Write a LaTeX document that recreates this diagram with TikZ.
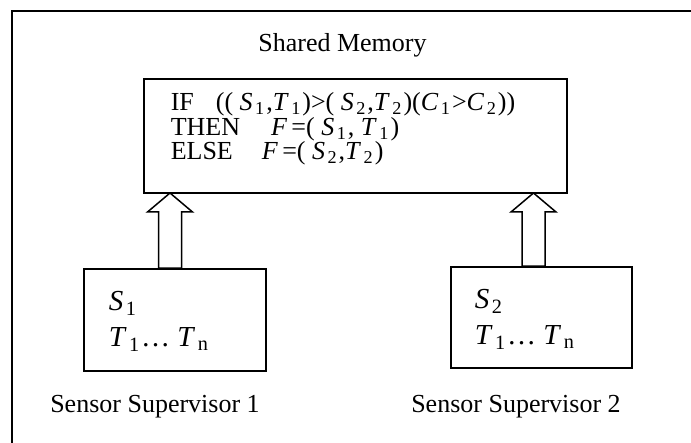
\documentclass[tikz,border=0pt]{standalone}
\usepackage{fontspec}
\setmainfont{Liberation Serif}
\usetikzlibrary{calc}
\newcommand\iv[2]{\textit{#1}\kern2.5pt\textsubscript{#2}\kern1.5pt}
\begin{document}
\begin{tikzpicture}[x=1pt,y=-1pt,line width=1.5pt,
  box node/.style={rectangle,draw,inner sep=0pt},
  memo text/.style={font=\fontsize{26}{26}\selectfont,anchor=base west,inner sep=0pt,text height=17pt,text depth=5pt},
  sup text/.style={font=\fontsize{29}{29}\selectfont,anchor=base west,inner sep=0pt,text height=20pt,text depth=6pt},
  caption/.style={font=\fontsize{26}{26}\selectfont,anchor=base,inner sep=0pt}]

  \useasboundingbox (0,0) rectangle (691,443);
  \draw[line width=2pt] (12,443) -- (12,11) -- (691,11);

  \node[box node,minimum width=423pt,minimum height=114pt] at (355.5,136) (mem) {};
  \node[box node,minimum width=182pt,minimum height=102pt] at (175,320) (sup1) {};
  \node[box node,minimum width=181pt,minimum height=101pt] at (541.5,317.5) (sup2) {};

  \node[caption] at (342.5,52) (memtitle) {Shared Memory};
  \node[memo text] at (170,111) (ifline) {IF\hspace{22pt}((\ \iv{S}{1},\iv{T}{1})>(\ \iv{S}{2},\iv{T}{2})(\iv{C}{1}>\iv{C}{2}))};
  \node[memo text] at (170,135.5) (thenline) {THEN\hspace{31pt}\textit{F}\,=(\ \iv{S}{1},\ \iv{T}{1})};
  \node[memo text] at (170,160) (elseline) {ELSE\hspace{29pt}\textit{F}\,=(\ \iv{S}{2},\iv{T}{2})};

  \node[sup text] at (108,311) (s1) {\iv{S}{1}};
  \node[sup text] at (108,346.7) (t1) {\iv{T}{1}\dots\ \iv{T}{n}};
  \node[sup text] at (474,309) (s2) {\iv{S}{2}};
  \node[sup text] at (474,345) (t2) {\iv{T}{1}\dots\ \iv{T}{n}};

  \node[caption] at (155,413) (cap1) {Sensor Supervisor 1};
  \node[caption] at (516,413) (cap2) {Sensor Supervisor 2};

  \coordinate (tip1) at (170,193);
  \coordinate (tip2) at (533.5,193);
  \foreach \tip/\sup in {tip1/sup1,tip2/sup2}
    \draw (\tip) -- ++(-22.5,19) -- ++(11,0) -- ($(\tip|-\sup.north)+(-11.5,0)$)
      -- ++(23,0) -- ($(\tip)+(11.5,19)$) -- ++(11,0) -- cycle;
\end{tikzpicture}
\end{document}
